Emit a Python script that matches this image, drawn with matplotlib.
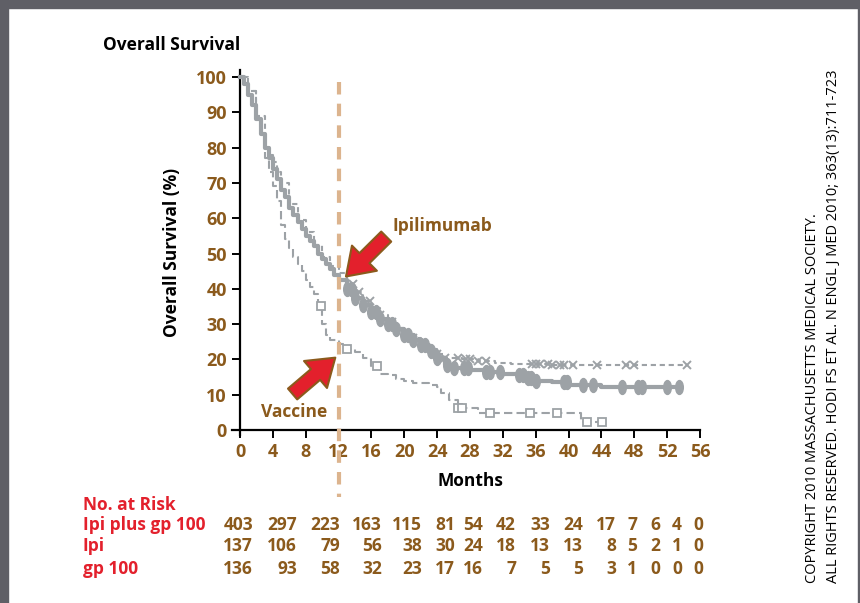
import numpy as np
import matplotlib
matplotlib.use('Agg')
import matplotlib.pyplot as plt
from matplotlib.path import Path
from matplotlib.patches import Rectangle

plt.rcParams['font.family'] = ['Open Sans', 'DejaVu Sans']

BROWN = '#8b5a1c'; RED = '#e3202c'; GRAY = '#9da2a6'; TAN = '#dcb48e'

# Kaplan-Meier steps (months, % alive)
combo_t = [0, 0.5, 1, 1.5, 2, 2.5, 3, 3.5, 4, 4.5, 5, 5.5, 6, 6.5, 7, 7.5, 8, 8.5, 9, 9.5,
           10, 10.5, 11, 11.5, 12, 13, 14, 15, 16, 17, 18, 19, 20, 21, 22, 23, 24, 25, 26,
           28, 30, 32, 34, 35, 36, 38, 40, 44, 53.6]
combo_s = [100, 98, 95, 92, 88, 84, 80, 77, 74, 71, 68, 66, 63, 61, 59, 57, 55, 53.5, 52, 50,
           48.5, 47, 45.5, 44, 42.5, 40, 37.5, 35.5, 33.5, 31.5, 30, 28.5, 27, 25.5, 24, 22.5,
           20.5, 18.5, 17.5, 17, 16.5, 16, 15.5, 14.8, 14, 13.5, 12.8, 12.2, 12.2]
combo_cens = [13, 13.5, 14, 15, 16, 16.5, 17, 18, 18.5, 19, 20,
              20.5, 21, 22, 22.5, 23.2, 24, 25.2, 26, 27.3, 27.8, 30, 30.4, 31.7, 34, 34.5, 35,
              35.4, 36, 39.4, 39.8, 41.8, 43, 46.5, 48.5, 48.9, 52, 53.4]

ipi_t = [0, 1, 2, 3, 3.5, 4, 4.5, 5, 6, 7, 8, 9, 10, 11, 12, 13, 14, 15, 16, 17, 18, 19, 20,
         21, 22, 23, 24, 25, 27, 29, 31, 33, 38, 54.4]
ipi_s = [100, 96, 89, 80.5, 78, 76, 73, 70, 64, 59.5, 56, 52.5, 49, 46.5, 44.5, 41.5, 39, 36.5,
         34.5, 32.5, 30.5, 29, 27.5, 26, 24.5, 23, 21.5, 20.5, 20, 19.5, 19, 18.8, 18.4, 18.4]
ipi_cens = [13.8, 14.5, 15.8, 17, 18.5, 21, 24, 25, 26.5, 27.5, 28, 29, 30, 35.5, 36, 36.5,
            37.5, 38, 39, 39.5, 40.5, 43.5, 47, 48, 54.4]

gp_t = [0, 1, 2, 2.5, 3, 3.5, 4, 4.5, 5, 5.5, 6, 6.5, 7, 7.5, 8, 8.5, 9, 9.5, 10, 10.5, 11,
        12, 13, 14, 15, 16, 17, 18, 19, 20, 21, 23, 24, 24.5, 25.5, 26.5, 29, 41.5, 44.1]
gp_s = [100, 96, 89, 84, 77, 73, 69, 65, 58, 54, 51.5, 49, 47, 45, 42.5, 40.5, 38.5, 35, 30,
        27, 25.5, 24.5, 23, 22, 20.5, 18, 16, 15.5, 14.5, 13.8, 13.3, 12.8, 12.2, 10.5, 8.5,
        6.2, 4.8, 2.3, 2.3]
gp_cens = [9.8, 13, 16.7, 26.5, 27, 30.4, 35.3, 38.6, 42.2, 44.1]

xticks = list(range(0, 57, 4))
yticks = list(range(0, 101, 10))

risk_rows = ['Ipi plus gp 100', 'Ipi', 'gp 100']
risk_combo = [403, 297, 223, 163, 115, 81, 54, 42, 33, 24, 17, 7, 6, 4, 0]
risk_ipi = [137, 106, 79, 56, 38, 30, 24, 18, 13, 13, 8, 5, 2, 1, 0]
risk_gp = [136, 93, 58, 32, 23, 17, 16, 7, 5, 5, 3, 1, 0, 0, 0]


def surv_at(t, s, x):
    i = np.searchsorted(t, x, side='right') - 1
    return np.array(s)[i]


W, H = 860, 603
fig = plt.figure(figsize=(8.6, 6.03), dpi=100)

def fx(px): return px / W
def fy(py): return 1 - py / H

# frame bands of the screenshot
fig.patches.append(Rectangle((0, fy(8)), 1, 8 / H, transform=fig.transFigure, color='#5f5f66'))
fig.patches.append(Rectangle((0, 0), 8 / W, 1, transform=fig.transFigure, color='#5f5f66'))
fig.patches.append(Rectangle((fx(857.5), 0), 2.5 / W, 1, transform=fig.transFigure, color='#5f5f66'))

ax = fig.add_axes([fx(231.8), fy(435.3), fx(700) - fx(231.8), fy(70) - fy(435.3)])
ax.set_xlim(-1, 56); ax.set_ylim(-1.5, 102)
for sp in ['top', 'right']:
    ax.spines[sp].set_visible(False)
ax.spines['left'].set_position(('data', 0))
ax.spines['bottom'].set_position(('data', 0))
for sp in ['left', 'bottom']:
    ax.spines[sp].set_linewidth(1.6)
ax.set_xticks(xticks); ax.set_yticks(yticks)
ax.tick_params(direction='out', length=6, width=1.4, color='black',
               labelcolor=BROWN, labelsize=13)
for lab in ax.get_xticklabels() + ax.get_yticklabels():
    lab.set_fontweight('bold')

# oval censor marker
circ = Path.unit_circle()
oval = Path(circ.vertices * [0.55, 1.0], circ.codes)

ax.step(combo_t, combo_s, where='post', color=GRAY, lw=3, zorder=3)
ax.plot(combo_cens, surv_at(combo_t, combo_s, combo_cens), ls='none', marker=oval,
        ms=10, color=GRAY, zorder=3)

ax.step(ipi_t, ipi_s, where='post', color=GRAY, lw=1.5, dashes=(2.5, 1.8), zorder=2)
ax.plot(ipi_cens, surv_at(ipi_t, ipi_s, ipi_cens), ls='none', marker='x', ms=6, mew=1.4,
        color=GRAY, zorder=2)

ax.step(gp_t, gp_s, where='post', color=GRAY, lw=1.5, dashes=(4, 2), zorder=2)
ax.plot(gp_cens, surv_at(gp_t, gp_s, gp_cens), ls='none', marker='s', ms=5.5, mew=1.3,
        mfc='white', color=GRAY, zorder=2)

# 12-month landmark
ax.plot([12, 12], [98.5, -19], color=TAN, lw=3, dashes=(3, 2.2), clip_on=False, zorder=4)

arrow = dict(arrowstyle='simple,head_length=1.1,head_width=1.5,tail_width=0.6',
             fc=RED, ec=BROWN, lw=1.5, mutation_scale=17, shrinkA=0, shrinkB=0)
ax.annotate('', xy=(12.9, 43.5), xytext=(17.8, 54.8), arrowprops=arrow, zorder=6)
ax.annotate('', xy=(11.6, 20.5), xytext=(6.4, 10.2), arrowprops=arrow, zorder=6)
ax.text(18.6, 57.8, 'Ipilimumab', color=BROWN, fontsize=12.5, fontweight='bold',
        ha='left', va='center')
ax.text(6.6, 5.2, 'Vaccine', color=BROWN, fontsize=12.5, fontweight='bold',
        ha='center', va='center')

fig.text(fx(103), fy(45), 'Overall Survival', fontsize=12.5, fontweight='bold',
         ha='left', va='center')
fig.text(fx(172), fy(252), 'Overall Survival (%)', fontsize=12.5, fontweight='bold',
         rotation=90, ha='center', va='center')
fig.text(fx(470), fy(481), 'Months', fontsize=12.5, fontweight='bold', ha='center', va='center')

# number at risk table
col_right = [253, 297, 340, 382, 422, 455, 483, 516, 550, 583, 616, 637, 660, 682, 703]
row_y = [525, 546, 569]
fig.text(fx(83), fy(505), 'No. at Risk', color=RED, fontsize=12.5, fontweight='bold',
         ha='left', va='center')
for name, vals, y in zip(risk_rows, [risk_combo, risk_ipi, risk_gp], row_y):
    fig.text(fx(83), fy(y), name, color=RED, fontsize=12.5, fontweight='bold',
             ha='left', va='center')
    for xr, v in zip(col_right, vals):
        fig.text(fx(xr), fy(y), str(v), color=BROWN, fontsize=12.5, fontweight='bold',
                 ha='right', va='center')

fig.text(fx(812), fy(583), 'COPYRIGHT 2010 MASSACHUSETTS MEDICAL SOCIETY.', fontsize=10.5,
         rotation=90, ha='center', va='bottom')
fig.text(fx(833), fy(583), 'ALL RIGHTS RESERVED. HODI FS ET AL. N ENGL J MED 2010; 363(13):711-723',
         fontsize=10.5, rotation=90, ha='center', va='bottom')

fig.savefig('out.png', dpi=100)
